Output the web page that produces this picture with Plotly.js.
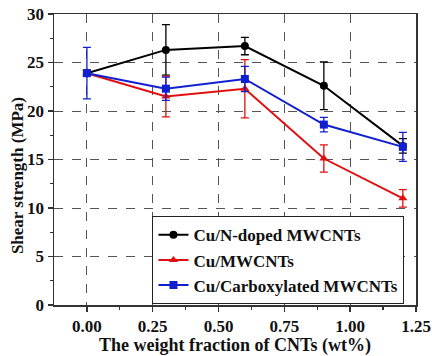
<!DOCTYPE html>
<html><head><meta charset="utf-8">
<script src="https://cdn.plot.ly/plotly-3.0.1.min.js"></script>
<style>body{margin:0;background:#fff}#c{width:432px;height:356px}</style>
</head><body><div id="c"></div>
<script>
const xVals = [0, 0.3, 0.6, 0.9, 1.2];
const nDoped = [23.9, 26.3, 26.7, 22.6, 16.4];
const nDopedErr = [0.3, 2.6, 0.9, 2.45, 0.75];
const plain = [23.9, 21.5, 22.3, 15.1, 11.0];
const plainErr = [0.3, 2.1, 3.0, 1.4, 0.9];
const carbox = [23.9, 22.3, 23.3, 18.6, 16.3];
const carboxErr = [2.65, 1.2, 1.3, 0.75, 1.5];
const names = ["Cu/N-doped MWCNTs", "Cu/MWCNTs", "Cu/Carboxylated MWCNTs"];
const xTicks = [0, 0.25, 0.5, 0.75, 1.0, 1.25];
const xTickText = ["0.00", "0.25", "0.50", "0.75", "1.00", "1.25"];
const yTicks = [0, 5, 10, 15, 20, 25, 30];
const yTickText = ["0", "5", "10", "15", "20", "25", "30"];
const xTitle = "The weight fraction of CNTs (wt%)";
const yTitle = "Shear strength (MPa)";

const F = "Liberation Serif";
const b = s => "<b>" + s + "</b>";
function tr(y, e, name, color, symbol) {
  return {x: xVals, y: y, name: b(name), type: "scatter", mode: "lines+markers",
    line: {color: color, width: 2}, marker: {color: color, symbol: symbol, size: 8},
    error_y: {type: "data", array: e, visible: true, color: color, thickness: 1.3, width: 4}};
}
const data = [
  tr(nDoped, nDopedErr, names[0], "#000000", "circle"),
  tr(plain, plainErr, names[1], "#e01010", "triangle-up"),
  tr(carbox, carboxErr, names[2], "#1020d0", "square")
];
const axisCommon = {showline: true, mirror: true, linecolor: "#333", linewidth: 1.5,
  ticks: "outside", ticklen: 5, tickcolor: "#333", tickwidth: 1.5,
  showgrid: true, gridcolor: "#555", griddash: "dash", gridwidth: 1, zeroline: false,
  tickfont: {family: F, size: 17, color: "#111"}};
const layout = {
  width: 432, height: 356,
  margin: {l: 54, r: 16, t: 14, b: 51},
  paper_bgcolor: "#fff", plot_bgcolor: "#fff",
  font: {family: F, color: "#111"},
  showlegend: true,
  legend: {x: 0.272, y: 0.305, xanchor: "left", yanchor: "top",
    bordercolor: "#222", borderwidth: 1, bgcolor: "#fff",
    font: {family: F, size: 17, color: "#111"},
    tracegroupgap: 0, itemwidth: 30},
  xaxis: Object.assign({}, axisCommon, {range: [-0.125, 1.25], tickvals: xTicks, ticktext: xTickText.map(b),
    minor: {tickvals: [0.125, 0.375, 0.625, 0.875, 1.125], ticks: "outside", ticklen: 3, tickcolor: "#333", tickwidth: 1.2, showgrid: false},
    title: {text: b(xTitle), font: {family: F, size: 18, color: "#111"}, standoff: 2}}),
  yaxis: Object.assign({}, axisCommon, {range: [0, 30], tickvals: yTicks, ticktext: yTickText.map(b),
    minor: {tickvals: [2.5, 7.5, 12.5, 17.5, 22.5, 27.5], ticks: "outside", ticklen: 3, tickcolor: "#333", tickwidth: 1.2, showgrid: false}}),
  annotations: [{text: b(yTitle), textangle: -90, xref: "paper", yref: "paper", x: 0, y: 0.443,
    xanchor: "center", yanchor: "middle", xshift: -37, showarrow: false,
    font: {family: F, size: 17, color: "#111"}}]
};
Plotly.newPlot("c", data, layout, {displayModeBar: false, staticPlot: true});
</script></body></html>
